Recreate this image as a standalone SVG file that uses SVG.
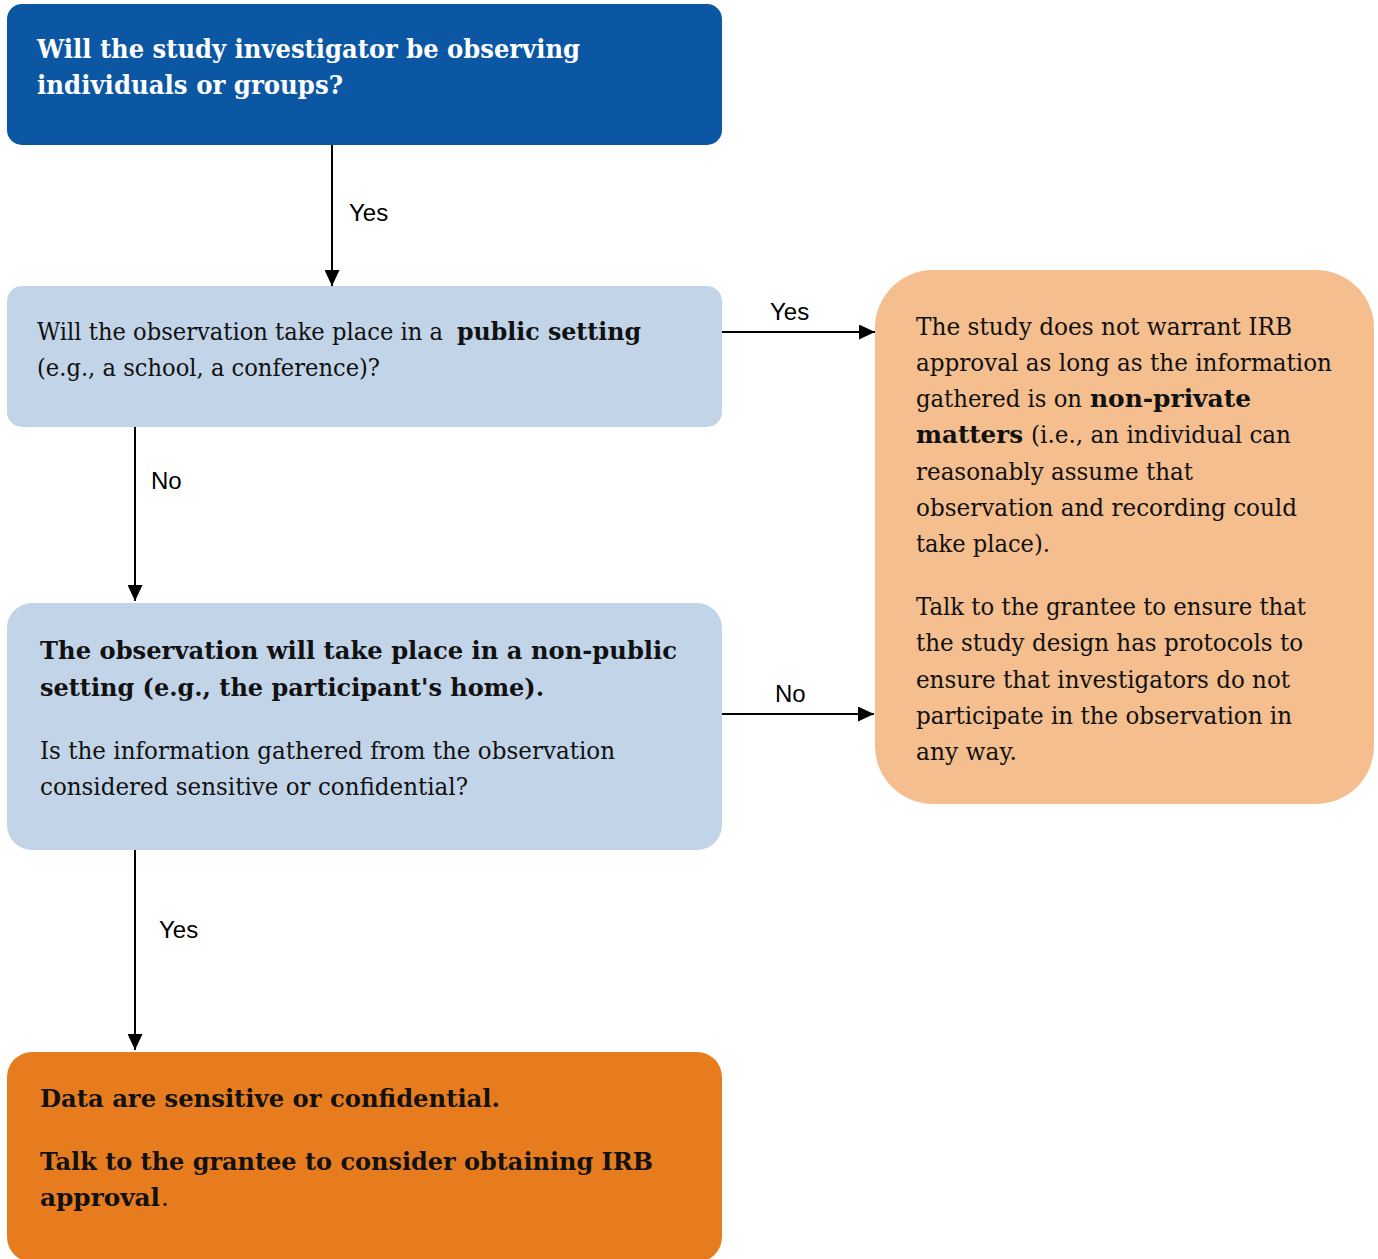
<svg xmlns="http://www.w3.org/2000/svg" width="1378" height="1259" viewBox="0 0 1378 1259">
<defs>
<style>
.t{font-family:"DejaVu Serif","Liberation Serif",serif;font-size:24.5px;fill:#111}
.b{font-weight:bold;font-size:25px}
.w{fill:#fff}
.lbl{font-family:"Liberation Sans",Arial,sans-serif;font-size:24px;fill:#000}
.con{stroke:#000;stroke-width:2;fill:none}
</style>
<marker id="ah" markerUnits="userSpaceOnUse" markerWidth="16" markerHeight="15" refX="16" refY="7.5" orient="auto">
<path d="M0,0 L16,7.5 L0,15 z" fill="#000"/>
</marker>
</defs>
<rect width="1378" height="1259" fill="#fff"/>

<g id="connectors">
<line class="con" x1="332" y1="145" x2="332" y2="286" marker-end="url(#ah)"/>
<text class="lbl" x="349" y="221">Yes</text>
<line class="con" x1="135" y1="427" x2="135" y2="601" marker-end="url(#ah)"/>
<text class="lbl" x="151" y="489">No</text>
<line class="con" x1="722" y1="332" x2="875" y2="332" marker-end="url(#ah)"/>
<text class="lbl" x="770" y="320">Yes</text>
<line class="con" x1="722" y1="714" x2="874" y2="714" marker-end="url(#ah)"/>
<text class="lbl" x="775" y="702">No</text>
<line class="con" x1="135" y1="850" x2="135" y2="1050" marker-end="url(#ah)"/>
<text class="lbl" x="159" y="938">Yes</text>
</g>

<g id="node-observing">
<rect x="7" y="4" width="715" height="141" rx="15" fill="#0B57A4"/>
<text class="t b w" x="37" y="58" style="font-size:26px" textLength="543" lengthAdjust="spacingAndGlyphs">Will the study investigator be observing</text>
<text class="t b w" x="37" y="94" style="font-size:26px" textLength="306" lengthAdjust="spacingAndGlyphs">individuals or groups?</text>
</g>

<g id="node-public">
<rect x="7" y="286" width="715" height="141" rx="15" fill="#C2D4E8"/>
<text class="t" x="37" y="340" textLength="406" lengthAdjust="spacingAndGlyphs">Will the observation take place in a</text>
<text class="t b" x="457" y="340" textLength="184" lengthAdjust="spacingAndGlyphs">public setting</text>
<text class="t" x="37" y="376" textLength="343" lengthAdjust="spacingAndGlyphs">(e.g., a school, a conference)?</text>
</g>

<g id="node-nonpublic">
<rect x="7" y="603" width="715" height="247" rx="25" fill="#C2D4E8"/>
<text class="t b" x="40" y="659" textLength="637" lengthAdjust="spacingAndGlyphs">The observation will take place in a non-public</text>
<text class="t b" x="40" y="696" textLength="504" lengthAdjust="spacingAndGlyphs">setting (e.g., the participant's home).</text>
<text class="t" x="40" y="759" textLength="575" lengthAdjust="spacingAndGlyphs">Is the information gathered from the observation</text>
<text class="t" x="40" y="795" textLength="428" lengthAdjust="spacingAndGlyphs">considered sensitive or confidential?</text>
</g>

<g id="node-sensitive">
<rect x="7" y="1052" width="715" height="210" rx="25" fill="#E77C1F"/>
<text class="t b" x="40" y="1107" textLength="460" lengthAdjust="spacingAndGlyphs">Data are sensitive or confidential.</text>
<text class="t b" x="40" y="1170" textLength="613" lengthAdjust="spacingAndGlyphs">Talk to the grantee to consider obtaining IRB</text>
<text class="t b" x="40" y="1206" textLength="120" lengthAdjust="spacingAndGlyphs">approval</text>
<text class="t" x="161" y="1206">.</text>
</g>

<g id="node-no-irb">
<rect x="875" y="270" width="499" height="534" rx="58" fill="#F4BE8E"/>
<text class="t" x="916" y="334.5" textLength="376" lengthAdjust="spacingAndGlyphs">The study does not warrant IRB</text>
<text class="t" x="916" y="370.8" textLength="416" lengthAdjust="spacingAndGlyphs">approval as long as the information</text>
<text class="t" x="916" y="407.1" textLength="166" lengthAdjust="spacingAndGlyphs">gathered is on</text>
<text class="t b" x="1090" y="407.1" textLength="161" lengthAdjust="spacingAndGlyphs">non-private</text>
<text class="t b" x="916" y="443.4" textLength="107" lengthAdjust="spacingAndGlyphs">matters</text>
<text class="t" x="1031" y="443.4" textLength="260" lengthAdjust="spacingAndGlyphs">(i.e., an individual can</text>
<text class="t" x="916" y="479.7" textLength="277" lengthAdjust="spacingAndGlyphs">reasonably assume that</text>
<text class="t" x="916" y="516" textLength="381" lengthAdjust="spacingAndGlyphs">observation and recording could</text>
<text class="t" x="916" y="552.3" textLength="134" lengthAdjust="spacingAndGlyphs">take place).</text>
<text class="t" x="916" y="615" textLength="390" lengthAdjust="spacingAndGlyphs">Talk to the grantee to ensure that</text>
<text class="t" x="916" y="651.3" textLength="387" lengthAdjust="spacingAndGlyphs">the study design has protocols to</text>
<text class="t" x="916" y="687.6" textLength="374" lengthAdjust="spacingAndGlyphs">ensure that investigators do not</text>
<text class="t" x="916" y="723.9" textLength="376" lengthAdjust="spacingAndGlyphs">participate in the observation in</text>
<text class="t" x="916" y="760.2" textLength="101" lengthAdjust="spacingAndGlyphs">any way.</text>
</g>
</svg>
